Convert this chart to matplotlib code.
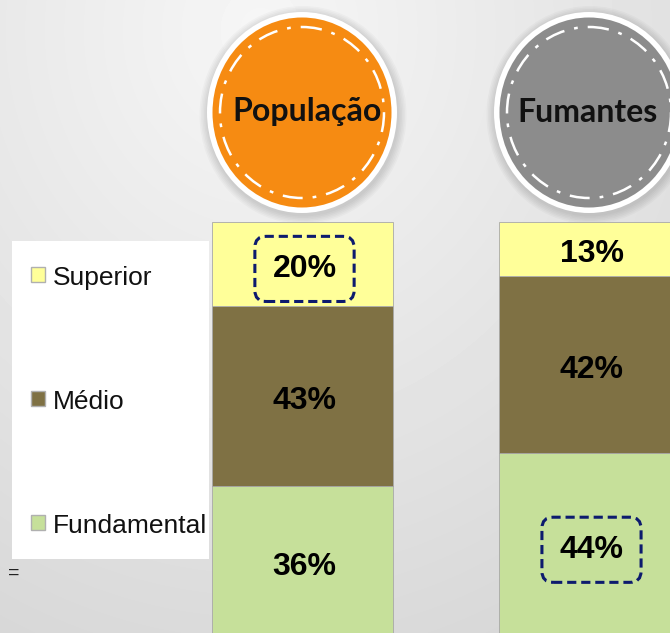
import matplotlib
matplotlib.use("Agg")
import matplotlib.pyplot as plt
import numpy as np
from matplotlib.patches import Ellipse, Rectangle

# data
groups = ["População", "Fumantes"]
levels = ["Fundamental", "Médio", "Superior"]          # bottom -> top
fundamental = [36, 44]
medio = [43, 42]
superior = [20, 13]
level_colors = ["#C6E09A", "#7F7144", "#FFFF99"]
circle_colors = ["#F68B12", "#8C8C8C"]
highlight = [(0, "Superior"), (1, "Fundamental")]

W, H = 670, 633
fig = plt.figure(figsize=(W / 100, H / 100), dpi=100)

# background layer in pixel coordinates
bg = fig.add_axes([0, 0, 1, 1])
bg.set_xlim(0, W)
bg.set_ylim(H, 0)
bg.axis("off")
yy, xx = np.mgrid[0:H, 0:W]
d = np.hypot(xx - 260, (yy - 30) * 0.9) / 650.0
shade = 0.965 - 0.13 * np.clip(d, 0, 1.2)
bg.imshow(shade, cmap="gray", vmin=0, vmax=1, extent=(0, W, H, 0),
          aspect="auto", zorder=0)

# legend panel
bg.add_patch(Rectangle((12, 241), 197, 318, fc="white", ec="none", zorder=1))
leg_y = {"Superior": 278, "Médio": 402, "Fundamental": 526}
for lev, col in zip(levels, level_colors):
    y = leg_y[lev]
    bg.add_patch(Rectangle((31, y - 11), 14, 15, fc=col, ec="#b0b0b0",
                           lw=1, zorder=2))
    bg.text(53, y, lev, fontsize=19, family="Liberation Sans",
            va="center", ha="left", color="#111111", zorder=3)
bg.text(14, 573, "=", fontsize=14, family="Liberation Sans",
        va="center", ha="center", color="#222222")

# circles
centers = [302, 589]
text_dx = [5, -1]
for cx, dx, name, col in zip(centers, text_dx, groups, circle_colors):
    for k in range(6):
        bg.add_patch(Ellipse((cx + 1, 115), 192 + 3 * k, 203 + 3 * k,
                             fc="black", ec="none", alpha=0.025, zorder=2))
    bg.add_patch(Ellipse((cx, 112.5), 190, 201, fc="white", ec="none", zorder=3))
    bg.add_patch(Ellipse((cx, 112.5), 179, 190, fc=col, ec="none", zorder=4))
    bg.add_patch(Ellipse((cx, 112.5), 164, 171, fc="none", ec="white", lw=1.8,
                         ls=(0, (8, 4, 1.5, 4)), zorder=5))
    bg.text(cx + dx, 112, name, fontsize=23, fontweight="bold",
            family=["Lato", "DejaVu Sans"],
            ha="center", va="center", color="#111111", zorder=6)

# bars
ax = fig.add_axes([0, 0, 1, 1 - 222 / H])
ax.patch.set_alpha(0)
x = np.arange(len(groups))
width = 0.63
bottom = np.zeros(len(groups))
vals = {"Fundamental": fundamental, "Médio": medio, "Superior": superior}
for lev, col in zip(levels, level_colors):
    v = np.array(vals[lev], dtype=float)
    ax.bar(x, v, width, bottom=bottom, color=col, edgecolor="#a8a8a8",
           linewidth=0.6)
    for i in range(len(groups)):
        hl = (i, lev) in highlight
        box = None
        if hl:
            box = dict(boxstyle="round,pad=0.55,rounding_size=0.35",
                       fc="none", ec="#0D1B6E", lw=2.2, ls=(0, (3, 1.6)))
        ax.annotate(f"{int(v[i])}%", (x[i], bottom[i] + v[i] / 2),
                    xytext=(2, -5), textcoords="offset pixels",
                    fontsize=23, fontweight="bold", family="Liberation Sans",
                    ha="center", va="center", color="black", bbox=box)
    bottom += v

ax.set_xlim(-302.5 / 287, -302.5 / 287 + W / 287)
ax.set_ylim(4 / 4.19, 99)
ax.axis("off")

fig.savefig("out.png", dpi=100)
